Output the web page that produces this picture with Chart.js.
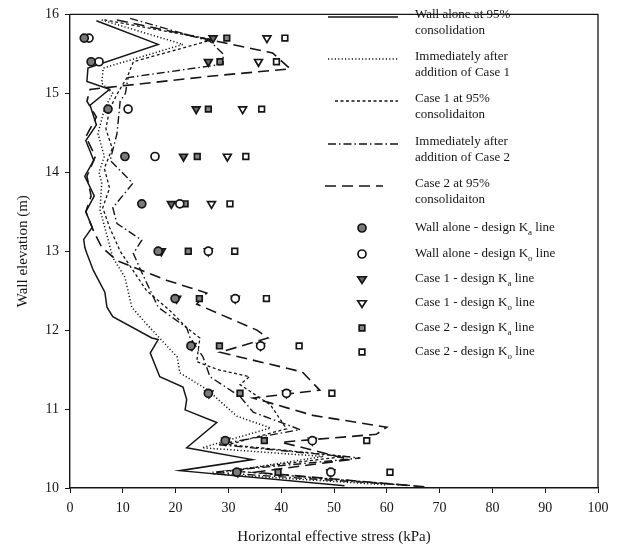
<!DOCTYPE html>
<html>
<head>
<meta charset="utf-8">
<script src="https://cdn.jsdelivr.net/npm/chart.js@4/dist/chart.umd.min.js"></script>
<style>
html,body{margin:0;padding:0;background:#fff;}
#wrap{width:629px;height:556px;position:relative;}
</style>
</head>
<body>
<div id="wrap"><canvas id="c" width="629" height="556"></canvas></div>
<script>
// ---- Data ----
const xTicks = [0,10,20,30,40,50,60,70,80,90,100];
const yTicks = [10,11,12,13,14,15,16];

// Wall alone at 95% consolidation (solid)
const wallX = [5.0,16.7,3.4,3.2,7.5,3.8,5.0,3.0,4.5,2.8,4.6,3.0,4.2,2.6,2.8,3.2,4.4,6.6,7.0,8.1,15.5,16.7,15.2,17.0,21.4,22.1,21.8,27.8,22.1,34.5,20.8,52.0];
const wallY = [15.92,15.62,15.32,15.15,15.05,14.85,14.6,14.4,14.15,13.95,13.7,13.5,13.3,13.15,13.05,12.97,12.76,12.48,12.29,12.17,11.9,11.88,11.71,11.41,11.28,11.12,10.99,10.83,10.51,10.36,10.22,10.03];

// Immediately after addition of Case 1 (dotted)
const imm1X = [6.0,21.4,6.3,6.0,8.1,6.5,5.3,6.5,5.5,6.0,5.7,6.6,8.1,10.4,11.7,14.6,20.3,20.8,25.9,31.6,38.0,25.0,48.0,27.0,60.0];
const imm1Y = [15.93,15.62,15.32,15.13,15.0,14.8,14.49,14.2,14.0,13.86,13.52,13.3,12.92,12.67,12.29,12.07,11.66,11.46,11.25,10.91,10.76,10.51,10.4,10.18,10.04];

// Case 1 at 95% consolidation (fine dash)
const case1X = [6.5,27.0,12.0,10.8,9.0,7.5,6.8,8.0,6.5,7.5,6.2,7.5,9.5,12.0,14.5,18.9,22.1,24.6,24.0,28.0,34.0,32.2,38.0,41.0,30.0,52.0,30.0,63.0];
const case1Y = [15.93,15.68,15.4,15.2,15.0,14.8,14.55,14.3,14.05,13.8,13.55,13.3,13.0,12.75,12.5,12.25,12.03,11.9,11.6,11.5,11.41,11.31,11.05,10.75,10.55,10.4,10.22,10.04];

// Immediately after addition of Case 2 (dash-dot)
const imm2X = [11.4,26.5,29.0,29.0,11.0,10.5,9.5,8.9,7.6,11.9,8.1,8.9,13.6,12.0,13.6,16.7,22.1,22.7,25.2,26.5,32.2,34.7,43.6,28.0,55.0,27.0,65.0];
const imm2Y = [15.95,15.66,15.5,15.37,15.2,15.0,14.9,14.49,14.15,13.86,13.55,13.35,13.14,12.97,12.73,12.29,12.03,11.91,11.66,11.41,11.16,10.96,10.74,10.55,10.38,10.2,10.03];

// Case 2 at 95% consolidation (long dash)
const case2X = [8.9,38.4,41.7,27.0,3.8,3.2,5.0,3.0,4.8,3.2,4.0,3.0,4.5,6.0,8.9,18.4,25.9,24.0,35.4,37.5,28.4,44.0,47.3,34.7,46.0,60.0,58.0,40.0,53.0,35.0,68.0];
const case2Y = [15.93,15.51,15.31,15.22,15.05,14.9,14.7,14.45,14.2,13.95,13.7,13.5,13.25,13.05,12.88,12.63,12.47,12.33,12.0,11.9,11.72,11.47,11.24,11.14,10.92,10.77,10.68,10.58,10.36,10.2,10.01];

// Design lines (markers)
const designElev = [15.7,15.4,14.8,14.2,13.6,13.0,12.4,11.8,11.2,10.6,10.2];
const wallKa  = [2.7,4.0,7.2,10.4,13.6,16.7,19.9,22.9,26.2,29.4,31.6];
const wallKo  = [3.6,5.5,11.0,16.1,20.8,26.2,31.3,36.1,41.0,45.9,49.4];
const case1Ka = [27.1,26.2,23.9,21.5,19.2,17.3,20.2,23.1,26.3,29.5,31.8];
const case1Ko = [37.3,35.7,32.7,29.8,26.8,26.2,31.3,36.1,41.0,45.9,49.4];
const case2Ka = [29.7,28.4,26.2,24.1,21.8,22.4,24.5,28.3,32.2,36.8,39.4];
const case2Ko = [40.7,39.1,36.3,33.3,30.3,31.2,37.2,43.4,49.6,56.2,60.6];

const lineLabels = ["Wall alone at 95%|consolidation","Immediately after|addition of Case 1","Case 1 at 95%|consolidaiton","Immediately after|addition of Case 2","Case 2 at 95%|consolidaiton"];
const markerLabels = [["Wall alone - design K","a"," line"],["Wall alone - design K","o"," line"],["Case 1 - design K","a"," line"],["Case 1 - design K","o"," line"],["Case 2 - design K","a"," line"],["Case 2 - design K","o"," line"]];

// ---- build ----
const pts = (xs, ys) => xs.map((x,i)=>({x:x, y:ys[i]}));
const INK = '#151515';
const SERIF = '"Liberation Serif","DejaVu Serif",serif';

const lineStyles = [
  {dash:[], w:1.5},
  {dash:[1.2,2.2], w:1.5},
  {dash:[3,2.5], w:1.3},
  {dash:[8,3,1.5,3], w:1.4},
  {dash:[11,6], w:1.6}
];
const lineData = [pts(wallX,wallY),pts(imm1X,imm1Y),pts(case1X,case1Y),pts(imm2X,imm2Y),pts(case2X,case2Y)];

const markerStyles = [
  {style:'circle', rot:0, fill:'#7a7a7a', r:4},
  {style:'circle', rot:0, fill:'#ffffff', r:4},
  {style:'triangle', rot:180, fill:'#6a6a6a', r:4.5},
  {style:'triangle', rot:180, fill:'#ffffff', r:4.5},
  {style:'rect', rot:0, fill:'#858585', r:4},
  {style:'rect', rot:0, fill:'#ffffff', r:4}
];
const markerData = [wallKa,wallKo,case1Ka,case1Ko,case2Ka,case2Ko].map(a=>pts(a,designElev));

const datasets = [];
lineData.forEach((d,i)=>{
  datasets.push({label:lineLabels[i], data:d, showLine:true, borderColor:INK, borderWidth:lineStyles[i].w,
    borderDash:lineStyles[i].dash, pointRadius:0, tension:0, fill:false, order:2});
});
markerData.forEach((d,i)=>{
  const m = markerStyles[i];
  datasets.push({label:markerLabels[i].join(''), data:d, showLine:false, pointStyle:m.style, rotation:m.rot,
    pointRadius:m.r, backgroundColor:m.fill, borderColor:INK, borderWidth:1.7, order:1});
});

const framePlugin = {
  id:'frame',
  afterDraw(chart){
    const {ctx, chartArea:a} = chart;
    ctx.save();
    ctx.strokeStyle = INK; ctx.lineWidth = 1.3;
    ctx.beginPath();
    ctx.moveTo(a.left, a.top); ctx.lineTo(a.right, a.top); ctx.lineTo(a.right, a.bottom);
    ctx.stroke();
    ctx.restore();
  }
};

const legendPlugin = {
  id:'customLegend',
  afterDraw(chart){
    const ctx = chart.ctx;
    ctx.save();
    ctx.fillStyle = INK; ctx.strokeStyle = INK;
    ctx.textBaseline = 'middle';
    ctx.font = '13px ' + SERIF;
    const textX = 415;
    const lineTops = [17,59,101,144,186];
    const sampleX = [[328,398],[328,398],[335,398],[328,398],[325,383]];
    lineLabels.forEach((lab,i)=>{
      const y = lineTops[i];
      ctx.setLineDash(lineStyles[i].dash);
      ctx.lineWidth = lineStyles[i].w;
      ctx.beginPath(); ctx.moveTo(sampleX[i][0], y); ctx.lineTo(sampleX[i][1], y); ctx.stroke();
      ctx.setLineDash([]);
      const parts = lab.split('|');
      ctx.fillText(parts[0], textX, y-2);
      ctx.fillText(parts[1], textX, y+14);
    });
    const mTops = [228,254,279,303,328,352];
    markerLabels.forEach((lab,i)=>{
      const y = mTops[i];
      const m = markerStyles[i];
      drawMarker(ctx, m, 362, y);
      ctx.fillStyle = INK;
      ctx.font = '13px ' + SERIF;
      let x = textX;
      ctx.fillText(lab[0], x, y); x += ctx.measureText(lab[0]).width;
      ctx.font = '9px ' + SERIF;
      ctx.fillText(lab[1], x, y+5); x += ctx.measureText(lab[1]).width;
      ctx.font = '13px ' + SERIF;
      ctx.fillText(lab[2], x, y);
    });
    ctx.restore();
  }
};

function drawMarker(ctx, m, x, y){
  ctx.save();
  ctx.fillStyle = m.fill; ctx.strokeStyle = INK; ctx.lineWidth = 1.7;
  ctx.beginPath();
  const r = m.r;
  if (m.style === 'circle'){
    ctx.arc(x, y, r, 0, Math.PI*2);
  } else if (m.style === 'rect'){
    const s = r*Math.SQRT1_2*2;
    ctx.rect(x - s/2, y - s/2, s, s);
  } else {
    const h = r*1.5;
    ctx.moveTo(x - r*0.95, y - h/3);
    ctx.lineTo(x + r*0.95, y - h/3);
    ctx.lineTo(x, y + h*2/3);
    ctx.closePath();
  }
  ctx.fill(); ctx.stroke();
  ctx.restore();
}

new Chart(document.getElementById('c'), {
  type:'scatter',
  data:{datasets},
  options:{
    responsive:false, animation:false, events:[],
    layout:{padding:{top:13,right:31,left:14,bottom:0}},
    plugins:{legend:{display:false}, tooltip:{enabled:false}},
    scales:{
      x:{type:'linear', min:0, max:100,
        afterBuildTicks(s){ s.ticks = xTicks.map(v=>({value:v})); },
        afterFit(s){ s.height = 68; },
        ticks:{color:INK, font:{family:SERIF, size:14}, padding:7},
        grid:{display:true, drawOnChartArea:false, drawTicks:true, tickLength:5, color:INK, lineWidth:1},
        border:{display:true, color:INK, width:1.4},
        title:{display:true, text:'Horizontal effective stress (kPa)', color:INK, font:{family:SERIF, size:15}, padding:{top:4,bottom:10}}
      },
      y:{type:'linear', min:10, max:16,
        afterBuildTicks(s){ s.ticks = yTicks.map(v=>({value:v})); },
        afterFit(s){ s.width = 56; },
        ticks:{color:INK, font:{family:SERIF, size:14}, padding:6},
        grid:{display:true, drawOnChartArea:false, drawTicks:true, tickLength:5, color:INK, lineWidth:1},
        border:{display:true, color:INK, width:1.4},
        title:{display:true, text:'Wall elevation (m)', color:INK, font:{family:SERIF, size:15}, padding:{top:0,bottom:4}}
      }
    }
  },
  plugins:[framePlugin, legendPlugin]
});
</script>
</body>
</html>
